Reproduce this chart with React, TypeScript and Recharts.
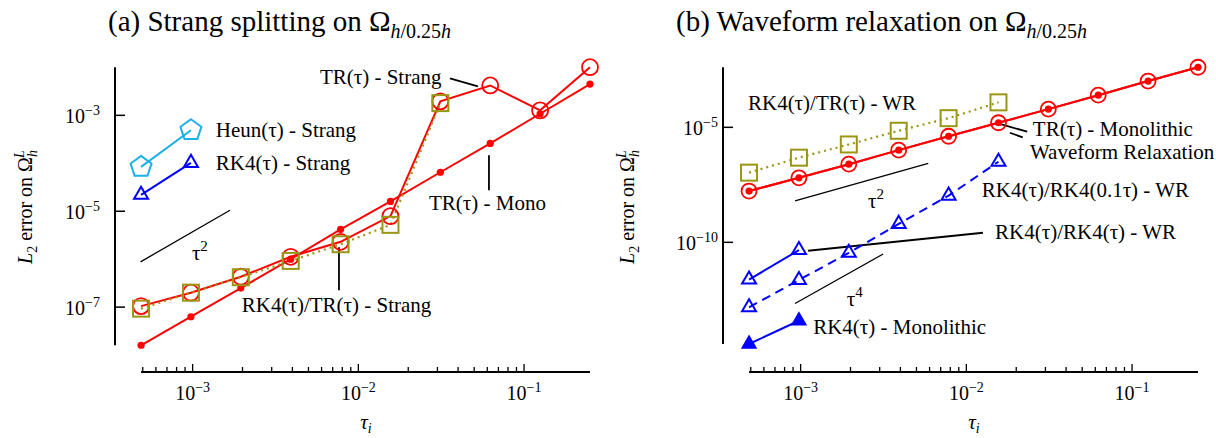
import React from "react";
import {
  LineChart,
  Line,
  XAxis,
  YAxis,
  ReferenceLine,
  ReferenceDot,
} from "recharts";

const FONT = "'Liberation Serif', 'Times New Roman', serif";
const RED = "#ff0000";
const BLUE = "#0000ff";
const CYAN = "#1cb0e8";
const OLIVE = "#9b9514";

// time steps tau_i (0.25 halved down)
const tau = [
  4.883e-4, 9.766e-4, 1.953e-3, 3.906e-3, 7.813e-3, 1.5625e-2, 3.125e-2,
  6.25e-2, 0.125, 0.25,
];

// (a) Strang splitting
const trMonoA = [1.6e-8, 6.3e-8, 2.5e-7, 1.0e-6, 4.2e-6, 1.6e-5, 6.5e-5, 2.6e-4, 1.08e-3, 4.5e-3];
const trStrang = [1.05e-7, 2.0e-7, 4.3e-7, 1.12e-6, 2.3e-6, 7.9e-6, 1.96e-3, 4.2e-3, 1.27e-3, 1.01e-2];
const rk4TrStrang = [9.3e-8, 2.0e-7, 4.2e-7, 9.2e-7, 2.05e-6, 5.2e-6, 1.8e-3];
const heunStrang = [8.4e-5, 4.9e-4];
const rk4Strang = [2.2e-5, 1.02e-4];

// (b) waveform relaxation
const trMonoB = [1.7e-8, 6.4e-8, 2.5e-7, 1.02e-6, 4.1e-6, 1.58e-5, 6.2e-5, 2.5e-4, 1.03e-3, 4.1e-3];
const trWr = [1.7e-8, 6.4e-8, 2.5e-7, 1.02e-6, 4.1e-6, 1.58e-5, 6.2e-5, 2.5e-4, 1.03e-3, 4.1e-3];
const rk4TrWr = [1.07e-7, 4.8e-7, 1.8e-6, 7.1e-6, 2.5e-5, 1.22e-4];
const rk4Rk4FineWr = [1.5e-13, 2.3e-12, 3.5e-11, 6.3e-10, 1.07e-8, 3.2e-7];
const rk4Rk4Wr = [2.4e-12, 4.6e-11];
const rk4Mono = [3.8e-15, 3.9e-14];

const xTicks = [
  5e-4, 6e-4, 7e-4, 8e-4, 9e-4, 1e-3, 2e-3, 3e-3, 4e-3, 5e-3, 6e-3, 7e-3,
  8e-3, 9e-3, 1e-2, 2e-2, 3e-2, 4e-2, 5e-2, 6e-2, 7e-2, 8e-2, 9e-2, 1e-1,
];
const yTicksA = [1e-3, 1e-5, 1e-7];
const yTicksB = [1e-5, 1e-10];

const X_DOMAIN = [3.4e-4, 0.25];
const Y_DOMAIN_A = [4.43e-9, 1.02e-2];
const Y_DOMAIN_B = [2.3e-16, 4.2e-3];

// reference slopes and leader lines, in data coordinates
const guidesA = [[{ x: 4.85e-4, y: 8.8e-7 }, { x: 1.68e-3, y: 1.05e-5 }]];
const leadersA = [
  [{ x: 3.57e-2, y: 5.9e-3 }, { x: 5.27e-2, y: 4.0e-3 }],
  [{ x: 7.64e-3, y: 1.78e-6 }, { x: 7.64e-3, y: 2.26e-7 }],
  [{ x: 6.14e-2, y: 1.47e-4 }, { x: 6.14e-2, y: 2.74e-5 }],
];
const notesA = [
  { x: 5.86e-3, y: 4.43e-3, text: "TR(τ) - Strang" },
  { x: 1.38e-3, y: 3.48e-4, text: "Heun(τ) - Strang" },
  { x: 1.38e-3, y: 7.15e-5, text: "RK4(τ) - Strang" },
  { x: 1.98e-3, y: 7.87e-8, text: "RK4(τ)/TR(τ) - Strang" },
  { x: 2.67e-2, y: 1.05e-5, text: "TR(τ) - Mono" },
];
const slopeNotesA = [{ x: 9.9e-4, y: 9.5e-7, sup: "2" }];

const guidesB = [
  [{ x: 9.25e-4, y: 6.4e-9 }, { x: 5.89e-3, y: 2.7e-7 }],
  [{ x: 9.25e-4, y: 2.2e-13 }, { x: 3.15e-3, y: 3.1e-11 }],
];
const leadersB = [
  [{ x: 1.61e-2, y: 1.39e-5 }, { x: 2.33e-2, y: 6.44e-6 }],
  [{ x: 1.83e-2, y: 5.82e-6 }, { x: 2.19e-2, y: 3.67e-6 }],
  [{ x: 1.11e-3, y: 4.31e-11 }, { x: 1.26e-2, y: 2.61e-10 }],
];
const notesB = [
  { x: 4.81e-4, y: 5.65e-5, text: "RK4(τ)/TR(τ) - WR" },
  { x: 2.52e-2, y: 4.19e-6, text: "TR(τ) - Monolithic" },
  { x: 2.42e-2, y: 4.4e-7, text: "Waveform Relaxation" },
  { x: 1.24e-2, y: 9.33e-9, text: "RK4(τ)/RK4(0.1τ) - WR" },
  { x: 1.49e-2, y: 1.44e-10, text: "RK4(τ)/RK4(τ) - WR" },
  { x: 1.19e-3, y: 1.06e-14, text: "RK4(τ) - Monolithic" },
];
const slopeNotesB = [
  { x: 2.55e-3, y: 3.1e-9, sup: "2" },
  { x: 1.9e-3, y: 1.7e-13, sup: "4" },
];

const pts = (ys: number[]) => ys.map((y, i) => ({ x: tau[i], y }));

// markers
const openCircle = (r: number) => (p: any) => (
  <circle key={`oc${p.index}`} cx={p.cx} cy={p.cy} r={r} fill="none" stroke={RED} strokeWidth={1.8} />
);
const filledDot = (p: any) => (
  <circle key={`fd${p.index}`} cx={p.cx} cy={p.cy} r={3.6} fill={RED} stroke="none" />
);
const square = (p: any) => (
  <rect key={`sq${p.index}`} x={p.cx - 8} y={p.cy - 8} width={16} height={16} fill="none" stroke={OLIVE} strokeWidth={2} />
);
const pentagon = (p: any) => {
  const R = 11;
  const pts = [0, 1, 2, 3, 4]
    .map((k) => {
      const a = ((-90 + 72 * k) * Math.PI) / 180;
      return `${p.cx + R * Math.cos(a)},${p.cy + R * Math.sin(a)}`;
    })
    .join(" ");
  return <polygon key={`pg${p.index}`} points={pts} fill="none" stroke={CYAN} strokeWidth={2} />;
};
const triangle = (filled: boolean, s = 14) => (p: any) => {
  const h = s * 0.866;
  const d = `M${p.cx},${p.cy - (2 * h) / 3} L${p.cx + s / 2},${p.cy + h / 3} L${p.cx - s / 2},${p.cy + h / 3} Z`;
  return (
    <path key={`tr${p.index}`} d={d} fill={filled ? BLUE : "none"} stroke={BLUE} strokeWidth={2} />
  );
};

const isDecade = (v: number) =>
  Math.abs(Math.log10(v) - Math.round(Math.log10(v))) < 1e-6;

function XTick(props: any) {
  const { x, y, payload } = props;
  const v = payload.value;
  const major = isDecade(v);
  return (
    <g>
      <line x1={x} x2={x} y1={y} y2={y - (major ? 8 : 5)} stroke="#000" strokeWidth={1.3} />
      {major && (
        <text x={x} y={y + 28} textAnchor="middle" fontFamily={FONT} fontSize={20} fill="#000">
          10
          <tspan dy={-8} fontSize={14}>{`−${-Math.round(Math.log10(v))}`}</tspan>
        </text>
      )}
    </g>
  );
}

const yTick = (gap: number) => (props: any) => {
  const { x, y, payload } = props;
  const e = Math.round(Math.log10(payload.value));
  return (
    <g>
      <line x1={x} x2={x + 10} y1={y} y2={y} stroke="#000" strokeWidth={1.5} />
      <text x={x - gap} y={y + 8} textAnchor="end" fontFamily={FONT} fontSize={20} fill="#000">
        10
        <tspan dy={-8} fontSize={14}>{`−${-e}`}</tspan>
      </text>
    </g>
  );
};

const noteShape = (text: string) => (p: any) => (
  <text x={p.cx} y={p.cy} fontFamily={FONT} fontSize={21} fill="#000">
    {text}
  </text>
);
const slopeShape = (sup: string) => (p: any) => (
  <text x={p.cx} y={p.cy} fontFamily={FONT} fontSize={21} fill="#000">
    τ<tspan dy={-9} fontSize={15}>{sup}</tspan>
  </text>
);

function axes(yDomain: number[], yTicks: number[], gap: number, yMin: number, yMax: number) {
  return [
    <XAxis
      key="x"
      type="number"
      dataKey="x"
      scale="log"
      domain={X_DOMAIN}
      ticks={xTicks}
      interval={0}
      height={60}
      axisLine={false}
      tickLine={false}
      tickSize={0}
      tickMargin={0}
      tick={XTick}
    />,
    <YAxis
      key="y"
      type="number"
      dataKey="y"
      scale="log"
      domain={yDomain}
      ticks={yTicks}
      interval={0}
      width={60}
      axisLine={false}
      tickLine={false}
      tickSize={0}
      tickMargin={0}
      tick={yTick(gap)}
    />,
    <ReferenceLine
      key="xspine"
      segment={[{ x: tau[0], y: yDomain[0] }, { x: tau[tau.length - 1], y: yDomain[0] }]}
      stroke="#000"
      strokeWidth={2}
      ifOverflow="visible"
    />,
    <ReferenceLine
      key="yspine"
      segment={[{ x: X_DOMAIN[0], y: yMin }, { x: X_DOMAIN[0], y: yMax }]}
      stroke="#000"
      strokeWidth={2}
      ifOverflow="visible"
    />,
  ];
}

function decorations(
  guides: { x: number; y: number }[][],
  leaders: { x: number; y: number }[][],
  notes: { x: number; y: number; text: string }[],
  slopes: { x: number; y: number; sup: string }[],
) {
  return [
    ...guides.map((s, i) => (
      <ReferenceLine key={`g${i}`} segment={s} stroke="#000" strokeWidth={1.3} ifOverflow="visible" />
    )),
    ...leaders.map((s, i) => (
      <ReferenceLine key={`l${i}`} segment={s} stroke="#000" strokeWidth={1.8} ifOverflow="visible" />
    )),
    ...notes.map((n, i) => (
      <ReferenceDot key={`n${i}`} x={n.x} y={n.y} r={0} ifOverflow="visible" shape={noteShape(n.text)} />
    )),
    ...slopes.map((n, i) => (
      <ReferenceDot key={`s${i}`} x={n.x} y={n.y} r={0} ifOverflow="visible" shape={slopeShape(n.sup)} />
    )),
  ];
}

const MARGIN = { top: 67, right: 18, bottom: 6, left: 55 };

export default function App() {
  return (
    <div style={{ position: "absolute", left: 0, top: 0, width: 1216, height: 438, background: "#fff" }}>
      <div style={{ position: "absolute", left: 0, top: 0 }}>
        <LineChart width={608} height={438} margin={MARGIN}>
          {axes(Y_DOMAIN_A, yTicksA, 15, 1.6e-8, 1.01e-2)}
          {decorations(guidesA, leadersA, notesA, slopeNotesA)}
          <Line data={pts(heunStrang)} dataKey="y" stroke={CYAN} strokeWidth={2} dot={pentagon} activeDot={false} isAnimationActive={false} />
          <Line data={pts(rk4Strang)} dataKey="y" stroke={BLUE} strokeWidth={2} dot={triangle(false)} activeDot={false} isAnimationActive={false} />
          <Line data={pts(trMonoA)} dataKey="y" stroke={RED} strokeWidth={2} dot={filledDot} activeDot={false} isAnimationActive={false} />
          <Line data={pts(trStrang)} dataKey="y" stroke={RED} strokeWidth={2} dot={openCircle(8)} activeDot={false} isAnimationActive={false} />
          <Line data={pts(rk4TrStrang)} dataKey="y" stroke={OLIVE} strokeWidth={2.2} strokeDasharray="2 4" dot={square} activeDot={false} isAnimationActive={false} />
        </LineChart>
      </div>
      <div style={{ position: "absolute", left: 608, top: 0 }}>
        <LineChart width={608} height={438} margin={MARGIN}>
          {axes(Y_DOMAIN_B, yTicksB, 5, 3.8e-15, 4.1e-3)}
          {decorations(guidesB, leadersB, notesB, slopeNotesB)}
          <Line data={pts(rk4Mono)} dataKey="y" stroke={BLUE} strokeWidth={2} dot={triangle(true, 13)} activeDot={false} isAnimationActive={false} />
          <Line data={pts(rk4Rk4Wr)} dataKey="y" stroke={BLUE} strokeWidth={2} dot={triangle(false)} activeDot={false} isAnimationActive={false} />
          <Line data={pts(rk4Rk4FineWr)} dataKey="y" stroke={BLUE} strokeWidth={2} strokeDasharray="9 6" dot={triangle(false)} activeDot={false} isAnimationActive={false} />
          <Line data={pts(rk4TrWr)} dataKey="y" stroke={OLIVE} strokeWidth={2.2} strokeDasharray="2 4" dot={square} activeDot={false} isAnimationActive={false} />
          <Line data={pts(trMonoB)} dataKey="y" stroke={RED} strokeWidth={2} dot={filledDot} activeDot={false} isAnimationActive={false} />
          <Line data={pts(trWr)} dataKey="y" stroke={RED} strokeWidth={2} dot={openCircle(7.5)} activeDot={false} isAnimationActive={false} />
        </LineChart>
      </div>
      <svg
        width={1216}
        height={438}
        style={{ position: "absolute", left: 0, top: 0, pointerEvents: "none" }}
        fontFamily={FONT}
        fill="#000"
      >
        <text x={108} y={31} fontSize={29}>
          (a) Strang splitting on Ω
          <tspan dy={7} fontSize={20} fontStyle="italic">h</tspan>
          <tspan fontSize={20}>/0.25</tspan>
          <tspan fontSize={20} fontStyle="italic">h</tspan>
        </text>
        <text x={676} y={31} fontSize={29}>
          (b) Waveform relaxation on Ω
          <tspan dy={7} fontSize={20} fontStyle="italic">h</tspan>
          <tspan fontSize={20}>/0.25</tspan>
          <tspan fontSize={20} fontStyle="italic">h</tspan>
        </text>
        {[32, 634].map((bx) => (
          <text key={bx} transform={`translate(${bx},207) rotate(-90)`} textAnchor="middle" fontSize={20}>
            <tspan fontStyle="italic">L</tspan>
            <tspan fontSize={14} dy={5}>2</tspan>
            <tspan dy={-5}> error on Ω</tspan>
            <tspan fontSize={14} fontStyle="italic" dy={5}>h</tspan>
            <tspan fontSize={14} fontStyle="italic" dx={-8} dy={-13}>L</tspan>
          </text>
        ))}
        {[366, 974].map((cx) => (
          <text key={cx} x={cx} y={429} textAnchor="middle" fontSize={21} fontStyle="italic">
            τ<tspan fontSize={14} dy={4}>i</tspan>
          </text>
        ))}
      </svg>
    </div>
  );
}
